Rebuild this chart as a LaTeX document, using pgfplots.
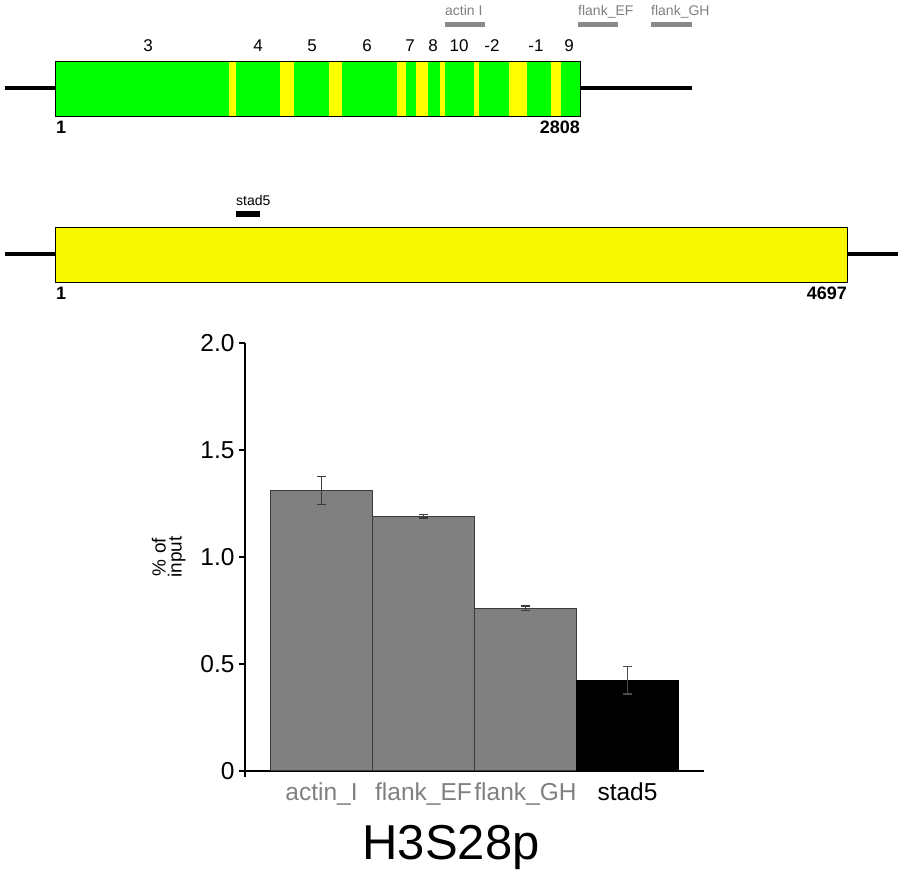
\documentclass[border=0pt]{standalone}
\usepackage{fontspec}
\setmainfont{Liberation Sans}
\usepackage{pgfplots}
\pgfplotsset{compat=1.18}
\definecolor{lgray}{HTML}{808080}
\definecolor{pgray}{HTML}{8A8A8A}
\definecolor{bgray}{HTML}{808080}
\definecolor{egray}{HTML}{3A3A3A}
\definecolor{e2gray}{HTML}{4C4C4C}
\definecolor{exgreen}{HTML}{00FF00}
\definecolor{exyellow}{HTML}{FFFF00}
\definecolor{yel2}{HTML}{F8F800}
\begin{document}
\begin{tikzpicture}
\useasboundingbox (0,0) rectangle (903pt,875pt);
% ---------- overlay axis in pixel coordinates (gene diagrams, title) ----------
\begin{axis}[at={(0pt,0pt)}, anchor=south west, width=903pt, height=875pt,
  scale only axis, hide axis, clip=false,
  xmin=0, xmax=903, ymin=0, ymax=875, y dir=reverse]
% gene 1
\addplot[black, line width=4pt] coordinates {(5,88) (55,88)};
\addplot[black, line width=4pt] coordinates {(580,88) (692,88)};
\addplot[draw=none, fill=exgreen] coordinates {(55,61) (580,61) (580,116) (55,116)} -- cycle;
\addplot[draw=none, fill=exyellow] coordinates {(228.6,61) (236,61) (236,116) (228.6,116)} -- cycle;
\addplot[draw=none, fill=exyellow] coordinates {(280,61) (293.8,61) (293.8,116) (280,116)} -- cycle;
\addplot[draw=none, fill=exyellow] coordinates {(328.7,61) (342,61) (342,116) (328.7,116)} -- cycle;
\addplot[draw=none, fill=exyellow] coordinates {(397,61) (405.9,61) (405.9,116) (397,116)} -- cycle;
\addplot[draw=none, fill=exyellow] coordinates {(416.4,61) (428,61) (428,116) (416.4,116)} -- cycle;
\addplot[draw=none, fill=exyellow] coordinates {(439.9,61) (444.9,61) (444.9,116) (439.9,116)} -- cycle;
\addplot[draw=none, fill=exyellow] coordinates {(473.8,61) (479.3,61) (479.3,116) (473.8,116)} -- cycle;
\addplot[draw=none, fill=exyellow] coordinates {(508.7,61) (526.6,61) (526.6,116) (508.7,116)} -- cycle;
\addplot[draw=none, fill=exyellow] coordinates {(551.4,61) (561,61) (561,116) (551.4,116)} -- cycle;
\addplot[draw=black, line width=0.9pt, fill=none] coordinates {(55,61) (580,61) (580,116) (55,116)} -- cycle;
% exon numbers
\foreach \xx/\lab in {148/3, 258/4, 312/5, 367/6, 410/7, 433/8, 459/10, 492/-2, 536/-1, 569/9}{
  \edef\tmp{\noexpand\node[anchor=base, inner sep=0pt, font=\noexpand\fontsize{17}{20}\noexpand\selectfont] at (axis cs:\xx,51.5) {\lab};}
  \tmp
}
\node[anchor=base west, inner sep=0pt, font=\fontsize{18}{20}\selectfont\bfseries] at (axis cs:56,133) {1};
\node[anchor=base east, inner sep=0pt, font=\fontsize{18}{20}\selectfont\bfseries] at (axis cs:580,133) {2808};
% primers
\addplot[draw=none, fill=pgray] coordinates {(445,21.7) (485,21.7) (485,26.7) (445,26.7)} -- cycle;
\addplot[draw=none, fill=pgray] coordinates {(578,21.7) (618,21.7) (618,26.7) (578,26.7)} -- cycle;
\addplot[draw=none, fill=pgray] coordinates {(651,21.7) (692,21.7) (692,26.7) (651,26.7)} -- cycle;
\node[anchor=base west, inner sep=0pt, text=lgray, font=\fontsize{14}{16}\selectfont] at (axis cs:445,16) {actin I};
\node[anchor=base west, inner sep=0pt, text=lgray, font=\fontsize{14}{16}\selectfont] at (axis cs:578,16) {flank\_EF};
\node[anchor=base west, inner sep=0pt, text=lgray, font=\fontsize{14}{16}\selectfont] at (axis cs:651,16) {flank\_GH};
% gene 2
\addplot[black, line width=4pt] coordinates {(5,254) (55,254)};
\addplot[black, line width=4pt] coordinates {(847,254) (898,254)};
\addplot[draw=black, line width=0.9pt, fill=yel2] coordinates {(55,227) (847,227) (847,282) (55,282)} -- cycle;
\addplot[draw=none, fill=black] coordinates {(236,211) (260,211) (260,217) (236,217)} -- cycle;
\node[anchor=base west, inner sep=0pt, font=\fontsize{14}{16}\selectfont] at (axis cs:236,205) {stad5};
\node[anchor=base west, inner sep=0pt, font=\fontsize{18}{20}\selectfont\bfseries] at (axis cs:56,299) {1};
\node[anchor=base east, inner sep=0pt, font=\fontsize{18}{20}\selectfont\bfseries] at (axis cs:847,299) {4697};
% title
\node[anchor=base, inner sep=0pt, font=\fontsize{49}{55}\selectfont] at (axis cs:451,859) {H3S28p};
\end{axis}
% ---------- bar chart ----------
\begin{axis}[at={(245pt,104pt)}, anchor=south west, width=459pt, height=428pt,
  scale only axis, clip=false,
  xmin=-0.75, xmax=3.75, ymin=0, ymax=2,
  axis lines*=left,
  axis line style={line width=2.5pt},
  y axis line style={shorten <=-6pt},
  ytick={0,0.5,1,1.5,2}, yticklabels={0,0.5,1.0,1.5,2.0},
  tick align=outside, major tick length=6pt,
  ytick style={black, line width=1.5pt},
  xtick={0,1,2,3},
  xticklabels={{\color{lgray}actin\_I},{\color{lgray}flank\_EF},{\color{lgray}flank\_GH},{stad5}},
  xtick style={draw=none},
  /pgf/number format/assume math mode=true,
  ticklabel style={font=\fontsize{24.5}{28}\selectfont},
  yticklabel style={xshift=-1pt},
  xticklabel style={yshift=-2pt},
  ylabel={\% of\\input},
  ylabel style={at={(axis description cs:-0.127,0.5)}, anchor=south, align=center,
    font=\fontsize{19}{16}\selectfont, inner sep=1pt},
  ybar, bar width=1, bar shift=0pt,
]
\addplot[fill=bgray, draw=egray, line width=1pt,
  error bars/.cd, y dir=both, y explicit,
  error bar style={egray, line width=1.2pt},
  error mark options={rotate=90, mark size=4.5pt, line width=1.2pt, egray}]
  coordinates {(0,1.31) +- (0,0.065) (1,1.19) +- (0,0.008) (2,0.76) +- (0,0.011)};
\addplot[fill=black, draw=black, line width=1pt,
  error bars/.cd, y dir=both, y explicit,
  error bar style={e2gray, line width=1.2pt},
  error mark options={rotate=90, mark size=4.5pt, line width=1.2pt, e2gray}]
  coordinates {(3,0.425) +- (0,0.065)};
\end{axis}
\end{tikzpicture}
\end{document}
